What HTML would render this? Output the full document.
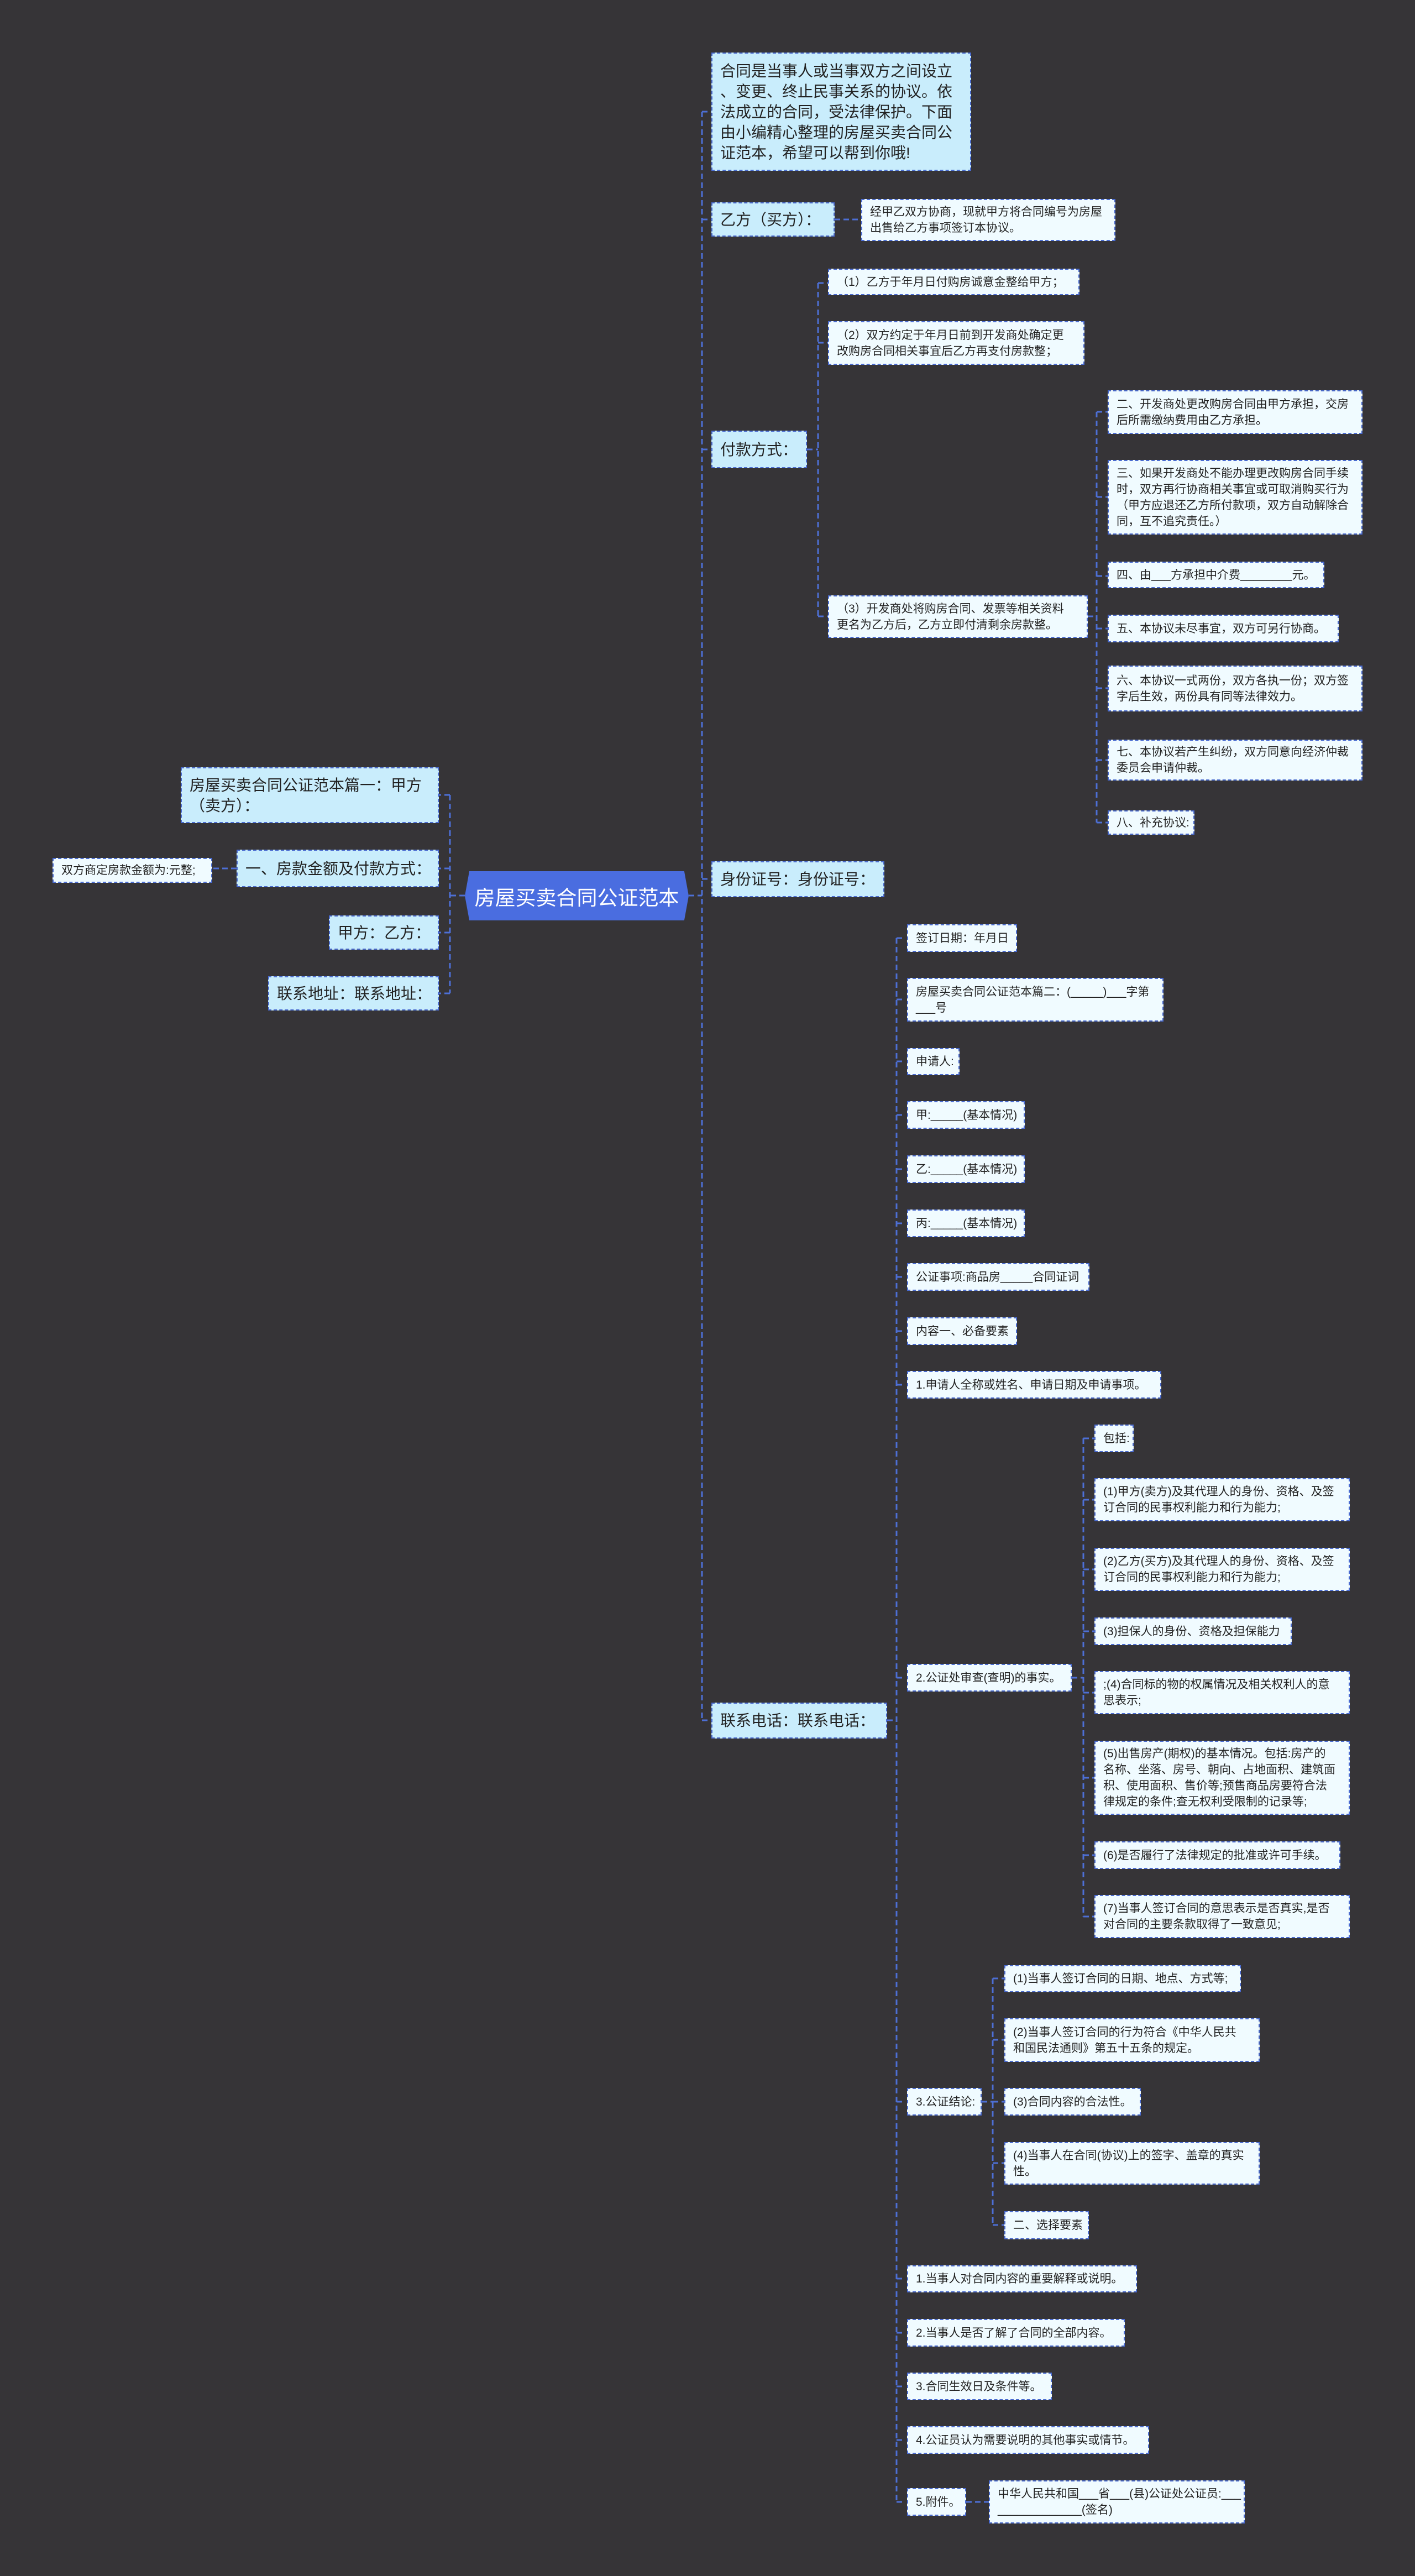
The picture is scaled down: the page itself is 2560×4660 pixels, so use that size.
<!DOCTYPE html>
<html><head><meta charset="utf-8">
<style>
html,body{margin:0;padding:0}
body{width:2560px;height:4660px;background:#363437;position:relative;overflow:hidden;font-family:"Liberation Sans","Noto Sans CJK SC",sans-serif;}
.n{position:absolute;box-sizing:border-box;border:2px dashed #4a6bd0;color:#222;display:flex;align-items:center;padding:0 14px;white-space:nowrap;overflow:hidden;}
.l1{background:#c9edfc;font-size:28px;line-height:37px;}
.lf{background:#f0fbff;font-size:21px;line-height:29px;}
.root{position:absolute;left:841px;top:1576px;width:405px;height:89px;background:#4a6de0;color:#fff;font-size:37px;display:flex;align-items:center;justify-content:center;clip-path:polygon(2% 0,98% 0,100% 50%,98% 100%,2% 100%,0 50%);}
svg{position:absolute;left:0;top:0}
</style></head><body>
<svg width="2560" height="4660" fill="none" stroke="#4d6fd6" stroke-width="3" stroke-dasharray="10 6">
<path d="M1246 1620H1270M1270 202V3112M1270 202H1287M1270 397H1287M1270 813H1287M1270 1590H1287M1270 3112H1287"/>
<path d="M841 1620H814M814 1438V1797M814 1438H794M814 1571H794M814 1687H794M814 1797H794M428 1571H384"/>
<path d="M1510 397H1558"/>
<path d="M1460 813H1480M1480 512V1115M1480 512H1498M1480 620H1498M1480 1115H1498"/>
<path d="M1968 1115H1984M1984 745V1488M1984 745H2004M1984 899H2004M1984 1042H2004M1984 1137H2004M1984 1245H2004M1984 1375H2004M1984 1488H2004"/>
<path d="M1605 3112H1622M1622 1697V4526M1622 1697H1638M1622 1808H1638M1622 1920H1638M1622 2017H1638M1622 2115H1638M1622 2213H1638M1622 2310H1638M1622 2408H1638M1622 2505H1638M1622 3035H1638M1622 3802H1638M1622 4122H1638M1622 4220H1638M1622 4317H1638M1622 4414H1638M1622 4526H1638"/>
<path d="M1939 3035H1960M1960 2602V3467M1960 2602H1980M1960 2713H1980M1960 2839H1980M1960 2951H1980M1960 3062H1980M1960 3216H1980M1960 3356H1980M1960 3467H1980"/>
<path d="M1776 3802H1796M1796 3579V4025M1796 3579H1817M1796 3690H1817M1796 3802H1817M1796 3913H1817M1796 4025H1817"/>
<path d="M1748 4526H1789"/>
</svg>

<div class="root">房屋买卖合同公证范本</div>

<div class="n l1" style="left:327px;top:1388px;width:467px;height:101px;">房屋买卖合同公证范本篇一：甲方<br>（卖方）：</div>
<div class="n l1" style="left:428px;top:1537px;width:366px;height:68px;">一、房款金额及付款方式：</div>
<div class="n lf" style="left:95px;top:1552px;width:289px;height:45px;">双方商定房款金额为:元整;</div>
<div class="n l1" style="left:595px;top:1656px;width:199px;height:62px;">甲方：乙方：</div>
<div class="n l1" style="left:485px;top:1766px;width:309px;height:62px;">联系地址：联系地址：</div>

<div class="n l1" style="left:1287px;top:95px;width:470px;height:214px;">合同是当事人或当事双方之间设立<br>、变更、终止民事关系的协议。依<br>法成立的合同，受法律保护。下面<br>由小编精心整理的房屋买卖合同公<br>证范本，希望可以帮到你哦!</div>
<div class="n l1" style="left:1287px;top:366px;width:223px;height:62px;">乙方（买方）：</div>
<div class="n lf" style="left:1558px;top:360px;width:460px;height:76px;">经甲乙双方协商，现就甲方将合同编号为房屋<br>出售给乙方事项签订本协议。</div>
<div class="n l1" style="left:1287px;top:779px;width:173px;height:68px;">付款方式：</div>
<div class="n lf" style="left:1498px;top:486px;width:455px;height:48px;">（1）乙方于年月日付购房诚意金整给甲方；</div>
<div class="n lf" style="left:1498px;top:581px;width:464px;height:79px;">（2）双方约定于年月日前到开发商处确定更<br>改购房合同相关事宜后乙方再支付房款整；</div>
<div class="n lf" style="left:1498px;top:1077px;width:470px;height:77px;">（3）开发商处将购房合同、发票等相关资料<br>更名为乙方后，乙方立即付清剩余房款整。</div>
<div class="n lf" style="left:2004px;top:706px;width:461px;height:79px;">二、开发商处更改购房合同由甲方承担，交房<br>后所需缴纳费用由乙方承担。</div>
<div class="n lf" style="left:2004px;top:832px;width:461px;height:135px;">三、如果开发商处不能办理更改购房合同手续<br>时，双方再行协商相关事宜或可取消购买行为<br>（甲方应退还乙方所付款项，双方自动解除合<br>同，互不追究责任。）</div>
<div class="n lf" style="left:2004px;top:1016px;width:392px;height:48px;">四、由___方承担中介费________元。</div>
<div class="n lf" style="left:2004px;top:1112px;width:418px;height:50px;">五、本协议未尽事宜，双方可另行协商。</div>
<div class="n lf" style="left:2004px;top:1204px;width:461px;height:83px;">六、本协议一式两份，双方各执一份；双方签<br>字后生效，两份具有同等法律效力。</div>
<div class="n lf" style="left:2004px;top:1338px;width:461px;height:74px;">七、本协议若产生纠纷，双方同意向经济仲裁<br>委员会申请仲裁。</div>
<div class="n lf" style="left:2004px;top:1466px;width:157px;height:44px;">八、补充协议:</div>
<div class="n l1" style="left:1287px;top:1558px;width:313px;height:65px;">身份证号：身份证号：</div>
<div class="n l1" style="left:1287px;top:3080px;width:318px;height:65px;">联系电话：联系电话：</div>

<div class="n lf" style="left:1641px;top:1672px;width:199px;height:50px;">签订日期：年月日</div>
<div class="n lf" style="left:1641px;top:1769px;width:464px;height:79px;">房屋买卖合同公证范本篇二：(_____)___字第<br>___号</div>
<div class="n lf" style="left:1641px;top:1896px;width:95px;height:49px;">申请人:</div>
<div class="n lf" style="left:1641px;top:1992px;width:213px;height:50px;">甲:_____(基本情况)</div>
<div class="n lf" style="left:1641px;top:2090px;width:213px;height:50px;">乙:_____(基本情况)</div>
<div class="n lf" style="left:1641px;top:2188px;width:213px;height:50px;">丙:_____(基本情况)</div>
<div class="n lf" style="left:1641px;top:2285px;width:330px;height:50px;">公证事项:商品房_____合同证词</div>
<div class="n lf" style="left:1641px;top:2383px;width:199px;height:50px;">内容一、必备要素</div>
<div class="n lf" style="left:1641px;top:2480px;width:460px;height:50px;">1.申请人全称或姓名、申请日期及申请事项。</div>
<div class="n lf" style="left:1641px;top:3010px;width:298px;height:50px;">2.公证处审查(查明)的事实。</div>
<div class="n lf" style="left:1980px;top:2577px;width:71px;height:50px;">包括:</div>
<div class="n lf" style="left:1980px;top:2674px;width:462px;height:78px;">(1)甲方(卖方)及其代理人的身份、资格、及签<br>订合同的民事权利能力和行为能力;</div>
<div class="n lf" style="left:1980px;top:2800px;width:462px;height:78px;">(2)乙方(买方)及其代理人的身份、资格、及签<br>订合同的民事权利能力和行为能力;</div>
<div class="n lf" style="left:1980px;top:2926px;width:357px;height:50px;">(3)担保人的身份、资格及担保能力</div>
<div class="n lf" style="left:1980px;top:3023px;width:462px;height:78px;">;(4)合同标的物的权属情况及相关权利人的意<br>思表示;</div>
<div class="n lf" style="left:1980px;top:3149px;width:462px;height:134px;">(5)出售房产(期权)的基本情况。包括:房产的<br>名称、坐落、房号、朝向、占地面积、建筑面<br>积、使用面积、售价等;预售商品房要符合法<br>律规定的条件;查无权利受限制的记录等;</div>
<div class="n lf" style="left:1980px;top:3331px;width:445px;height:50px;">(6)是否履行了法律规定的批准或许可手续。</div>
<div class="n lf" style="left:1980px;top:3428px;width:462px;height:78px;">(7)当事人签订合同的意思表示是否真实,是否<br>对合同的主要条款取得了一致意见;</div>
<div class="n lf" style="left:1641px;top:3777px;width:135px;height:50px;">3.公证结论:</div>
<div class="n lf" style="left:1817px;top:3555px;width:428px;height:49px;">(1)当事人签订合同的日期、地点、方式等;</div>
<div class="n lf" style="left:1817px;top:3651px;width:462px;height:79px;">(2)当事人签订合同的行为符合《中华人民共<br>和国民法通则》第五十五条的规定。</div>
<div class="n lf" style="left:1817px;top:3777px;width:247px;height:50px;">(3)合同内容的合法性。</div>
<div class="n lf" style="left:1817px;top:3875px;width:462px;height:77px;">(4)当事人在合同(协议)上的签字、盖章的真实<br>性。</div>
<div class="n lf" style="left:1817px;top:4000px;width:153px;height:51px;">二、选择要素</div>
<div class="n lf" style="left:1641px;top:4098px;width:416px;height:49px;">1.当事人对合同内容的重要解释或说明。</div>
<div class="n lf" style="left:1641px;top:4195px;width:394px;height:50px;">2.当事人是否了解了合同的全部内容。</div>
<div class="n lf" style="left:1641px;top:4292px;width:262px;height:50px;">3.合同生效日及条件等。</div>
<div class="n lf" style="left:1641px;top:4389px;width:438px;height:50px;">4.公证员认为需要说明的其他事实或情节。</div>
<div class="n lf" style="left:1641px;top:4501px;width:107px;height:50px;">5.附件。</div>
<div class="n lf" style="left:1789px;top:4487px;width:463px;height:78px;">中华人民共和国___省___(县)公证处公证员:___<br>_____________(签名)</div>
</body></html>
